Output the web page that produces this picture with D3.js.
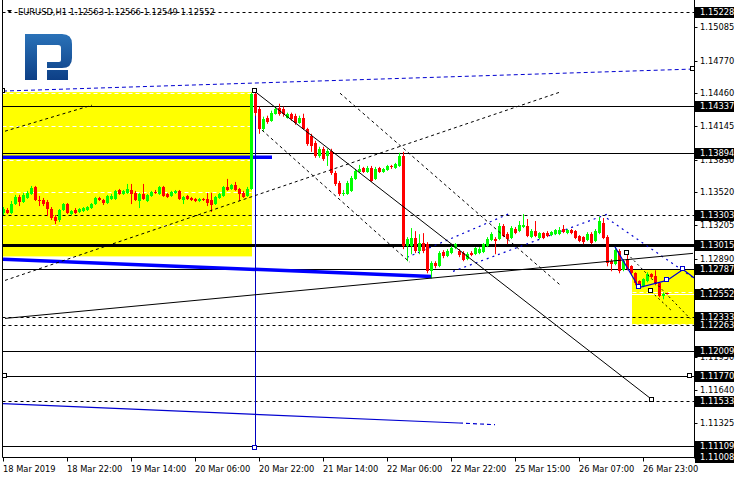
<!DOCTYPE html>
<html><head><meta charset="utf-8">
<script src="https://cdn.jsdelivr.net/npm/d3@7"></script>
<style>body{margin:0;background:#fff}svg{display:block}</style>
</head><body>
<svg id="c" width="740" height="480"></svg>
<script>
const symbolLabel = "EURUSD,H1";
const headerValues = ["1.12563","1.12566","1.12549","1.12552"];

const openP = [1.13322,1.13350,1.13322,1.13407,1.13475,1.13426,1.13465,1.13503,1.13570,1.13446,
1.13446,1.13426,1.13360,1.13284,1.13255,1.13350,1.13407,1.13312,1.13350,1.13331,
1.13341,1.13350,1.13369,1.13407,1.13465,1.13446,1.13417,1.13456,1.13456,1.13541,
1.13503,1.13513,1.13541,1.13513,1.13436,1.13503,1.13436,1.13484,1.13522,1.13503,
1.13570,1.13503,1.13484,1.13513,1.13532,1.13446,1.13484,1.13465,1.13456,1.13436,
1.13456,1.13456,1.13446,1.13407,1.13465,1.13484,1.13570,1.13551,1.13589,1.13551,
1.13513,1.13484,1.13551,1.14456,1.14313,1.14122,1.14227,1.14198,1.14265,1.14322,
1.14313,1.14227,1.14265,1.14246,1.14179,1.14227,1.14122,1.14055,1.13989,1.13865,
1.13932,1.13865,1.13913,1.13703,1.13608,1.13503,1.13503,1.13532,1.13646,1.13712,
1.13750,1.13712,1.13750,1.13646,1.13750,1.13712,1.13731,1.13765,1.13750,1.13769,
1.13865,1.13007,1.13007,1.13083,1.12960,1.13036,1.13026,1.12769,1.12845,1.12816,
1.12950,1.12912,1.12941,1.12988,1.12960,1.12941,1.12884,1.12941,1.12931,1.12941,
1.12950,1.13007,1.13064,1.13074,1.13074,1.13198,1.13121,1.13083,1.13170,1.13150,
1.13189,1.13198,1.13093,1.13150,1.13083,1.13131,1.13131,1.13112,1.13121,1.13121,
1.13170,1.13131,1.13160,1.13150,1.13102,1.13093,1.13064,1.13121,1.13055,1.13131,
1.13227,1.13093,1.12864,1.12835,1.12960,1.12778,1.12884,1.12816,1.12750,1.12674,
1.12626,1.12674,1.12740,1.12721,1.12655,1.12531,1.12563];
const highP = [1.13379,1.13369,1.13436,1.13494,1.13494,1.13513,1.13532,1.13579,1.13579,1.13484,
1.13465,1.13446,1.13379,1.13303,1.13360,1.13417,1.13417,1.13350,1.13369,1.13369,
1.13379,1.13388,1.13417,1.13475,1.13475,1.13456,1.13494,1.13503,1.13541,1.13551,
1.13541,1.13598,1.13598,1.13532,1.13513,1.13598,1.13503,1.13532,1.13541,1.13579,
1.13579,1.13513,1.13532,1.13541,1.13541,1.13484,1.13494,1.13475,1.13465,1.13465,
1.13465,1.13513,1.13513,1.13484,1.13513,1.13579,1.13646,1.13598,1.13617,1.13560,
1.13532,1.13570,1.14465,1.14475,1.14332,1.14237,1.14246,1.14294,1.14332,1.14360,
1.14332,1.14275,1.14275,1.14265,1.14246,1.14265,1.14131,1.14074,1.14008,1.13951,
1.13951,1.13932,1.13932,1.13722,1.13627,1.13541,1.13627,1.13674,1.13741,1.13779,
1.13760,1.13769,1.13769,1.13760,1.13760,1.13750,1.13779,1.13779,1.13798,1.13894,
1.13903,1.13093,1.13179,1.13150,1.13121,1.13131,1.13045,1.12864,1.12864,1.12960,
1.12969,1.12979,1.13007,1.13036,1.12979,1.12960,1.12950,1.12960,1.12998,1.12998,
1.13036,1.13093,1.13140,1.13093,1.13227,1.13217,1.13140,1.13198,1.13189,1.13246,
1.13312,1.13265,1.13170,1.13246,1.13140,1.13140,1.13150,1.13150,1.13170,1.13189,
1.13208,1.13170,1.13170,1.13160,1.13112,1.13102,1.13140,1.13140,1.13170,1.13284,
1.13274,1.13112,1.12884,1.12988,1.12979,1.12884,1.12931,1.12826,1.12759,1.12683,
1.12702,1.12759,1.12750,1.12778,1.12664,1.12569,1.12566];
const lowP = [1.13303,1.13312,1.13312,1.13398,1.13388,1.13417,1.13456,1.13494,1.13436,1.13388,
1.13388,1.13293,1.13255,1.13217,1.13236,1.13341,1.13312,1.13303,1.13312,1.13322,
1.13331,1.13341,1.13360,1.13398,1.13436,1.13398,1.13407,1.13446,1.13446,1.13494,
1.13494,1.13503,1.13407,1.13436,1.13369,1.13446,1.13426,1.13475,1.13503,1.13494,
1.13475,1.13465,1.13475,1.13503,1.13446,1.13407,1.13446,1.13436,1.13426,1.13426,
1.13436,1.13388,1.13331,1.13398,1.13456,1.13475,1.13532,1.13541,1.13532,1.13436,
1.13465,1.13475,1.13541,1.14246,1.14074,1.14103,1.14169,1.14188,1.14256,1.14246,
1.14237,1.14218,1.14198,1.14160,1.14169,1.14112,1.13960,1.13903,1.13846,1.13846,
1.13817,1.13769,1.13684,1.13579,1.13484,1.13484,1.13494,1.13522,1.13636,1.13703,
1.13703,1.13703,1.13617,1.13636,1.13703,1.13703,1.13722,1.13741,1.13741,1.13760,
1.12979,1.12864,1.12931,1.12941,1.12931,1.12941,1.12750,1.12702,1.12797,1.12807,
1.12893,1.12903,1.12931,1.12979,1.12903,1.12864,1.12874,1.12912,1.12922,1.12931,
1.12941,1.12998,1.13055,1.12931,1.13064,1.13093,1.13026,1.13074,1.13121,1.13140,
1.13179,1.13093,1.13083,1.13093,1.13074,1.13074,1.13093,1.13102,1.13112,1.13112,
1.13131,1.13121,1.13121,1.13074,1.13045,1.13026,1.13055,1.13026,1.13045,1.13121,
1.13074,1.12816,1.12769,1.12826,1.12750,1.12769,1.12778,1.12731,1.12636,1.12607,
1.12617,1.12664,1.12702,1.12636,1.12522,1.12503,1.12549];
const closeP = [1.13360,1.13322,1.13407,1.13475,1.13426,1.13494,1.13513,1.13560,1.13446,1.13441,
1.13407,1.13360,1.13274,1.13246,1.13350,1.13407,1.13322,1.13341,1.13322,1.13360,
1.13369,1.13379,1.13407,1.13465,1.13446,1.13417,1.13484,1.13484,1.13532,1.13503,
1.13532,1.13551,1.13503,1.13446,1.13503,1.13456,1.13494,1.13522,1.13513,1.13570,
1.13484,1.13475,1.13522,1.13532,1.13456,1.13475,1.13456,1.13446,1.13436,1.13456,
1.13446,1.13417,1.13398,1.13475,1.13503,1.13570,1.13541,1.13589,1.13541,1.13503,
1.13475,1.13551,1.14456,1.14275,1.14122,1.14218,1.14188,1.14275,1.14313,1.14265,
1.14265,1.14265,1.14218,1.14179,1.14227,1.14122,1.13979,1.13960,1.13865,1.13932,
1.13837,1.13913,1.13703,1.13598,1.13503,1.13513,1.13608,1.13655,1.13722,1.13741,
1.13712,1.13750,1.13627,1.13741,1.13712,1.13741,1.13769,1.13755,1.13788,1.13865,
1.13007,1.13074,1.13083,1.12960,1.13036,1.12960,1.12769,1.12845,1.12816,1.12941,
1.12912,1.12960,1.12988,1.13026,1.12922,1.12874,1.12931,1.12922,1.12988,1.12979,
1.13026,1.13074,1.13121,1.13055,1.13198,1.13102,1.13074,1.13179,1.13131,1.13208,
1.13208,1.13102,1.13150,1.13102,1.13131,1.13083,1.13102,1.13140,1.13160,1.13160,
1.13140,1.13160,1.13131,1.13083,1.13055,1.13045,1.13121,1.13036,1.13150,1.13246,
1.13083,1.12845,1.12835,1.12969,1.12769,1.12864,1.12788,1.12750,1.12655,1.12626,
1.12693,1.12740,1.12712,1.12645,1.12531,1.12550,1.12552];

const timeTickLabels = ["18 Mar 2019","18 Mar 22:00","19 Mar 14:00","20 Mar 06:00","20 Mar 22:00",
  "21 Mar 14:00","22 Mar 06:00","22 Mar 22:00","25 Mar 15:00","26 Mar 07:00","26 Mar 23:00"];
const timeTickBars = [0,16,32,48,64,80,96,112,128,144,160];
const priceTicks = [1.15085,1.14770,1.14460,1.14145,1.13830,1.13520,1.13205,1.12890,1.12575,1.12265,1.11950,1.11640,1.11325];
const hiddenTickLabels = [1.12265];

// horizontal levels (price, style)
const levelPrices = [1.15228,1.14337,1.13894,1.13303,1.13015,1.12787,1.12333,1.12263,1.12009,1.11770,1.11533,1.11109,1.11008];
const levelStyles = ["dash","solid","solid","dash","thick","solid","dash","dash","solid","solid","dash","solid","solid"];
const bidPrice = 1.12552;

// drawn objects: [bar1, price1, bar2, price2]
const dashedLines = [[0.5,1.12682,139.25,1.14470],[0.5,1.14099,22.25,1.14346],[64.75,1.14109,101.75,1.12853],[84.25,1.14460,139.25,1.12640]];
const dottedLines = [[156,1.12939,171.75,1.12321],[162,1.12577,167,1.12400]];
const solidLines = [[63,1.14475,162.25,1.11550],[0.5,1.12321,172.5,1.12939]];
const blueDotted = [[101,1.12901,126.75,1.13319],[112.5,1.12768,151,1.13310],[151,1.13272,174.25,1.12663]];
const blueDashedTop = [0,1.14480,172.5,1.14689];
const blueThickSlope = [0,1.12882,107.25,1.12720];
const blueThickFlat = [0,1.13852,67.25,1.13852];
const blueThin = [0,1.11512,114,1.11328];
const blueThinDashed = [114,1.11328,123,1.11312];
const blueVertical = [63,1.14475,1.11094];
const yellowBoxes = [[-0.25,1.14470,62.25,1.12910],[157.25,1.12787,175,1.12263]];
const projection = [[153,1.13000],[159,1.12615],[166,1.12682],[170,1.12786],[174.25,1.12663]];

const svg = d3.select("#c");
const W=740, H=480, plotL=2.5, plotR=694.5, plotT=0.5, plotB=457.5;
const x = d3.scaleLinear().domain([0,166]).range([3,667]);
const y = d3.scaleLinear().domain([1.11008,1.15228]).range([456.7,12.3]);
const font = "DejaVu Sans, Verdana, sans-serif";

svg.append("rect").attr("width",W).attr("height",H).attr("fill","#fff");
svg.append("clipPath").attr("id","clip").append("rect").attr("x",plotL).attr("y",plotT).attr("width",plotR-plotL).attr("height",plotB-plotT);
const g = svg.append("g").attr("clip-path","url(#clip)");

// yellow rectangles
g.selectAll("rect.yb").data(yellowBoxes).join("rect")
  .attr("x",d=>x(d[0])).attr("y",d=>y(d[1]))
  .attr("width",d=>x(d[2])-x(d[0])).attr("height",d=>y(d[3])-y(d[1]))
  .attr("fill","#ffff00");

// white dashed grid
g.selectAll("line.grid").data(priceTicks).join("line")
  .attr("x1",plotL).attr("x2",plotR)
  .attr("y1",d=>Math.round(y(d))+0.5).attr("y2",d=>Math.round(y(d))+0.5)
  .attr("stroke","#fff").attr("stroke-dasharray","4,3");

// logo
const logo = g.append("g");
const grad = svg.append("defs").append("linearGradient").attr("id","lg").attr("x1",0).attr("y1",0).attr("x2",0).attr("y2",1);
grad.append("stop").attr("offset","0").attr("stop-color","#2a72b8");
grad.append("stop").attr("offset","1").attr("stop-color","#0d3f86");
logo.append("path").attr("fill","url(#lg)").attr("fill-rule","evenodd")
  .attr("d","M25,34 H62 Q72,34 72,44 V58 Q72,68 62,68 H47 V62 H59 Q61,62 61,60 V48 Q61,45 58,45 H37 V80 H25 Z M47,70 H68 V80 H47 Z");

// horizontal levels
levelPrices.forEach((p,i)=>{
  const st = levelStyles[i];
  const yy = Math.round(y(p))+0.5;
  g.append("line").attr("x1",plotL).attr("x2",plotR).attr("y1",yy).attr("y2",yy)
    .attr("stroke","#000").attr("stroke-width", st==="thick"?3:1)
    .attr("stroke-dasharray", st==="dash"?"3,3":null);
});
g.append("line").attr("x1",plotL).attr("x2",plotR).attr("y1",Math.round(y(bidPrice))+0.5).attr("y2",Math.round(y(bidPrice))+0.5).attr("stroke","#fff");

// blue objects
const seg = (sel,d)=>sel.attr("x1",x(d[0])).attr("y1",y(d[1])).attr("x2",x(d[2])).attr("y2",y(d[3]));
seg(g.append("line"),blueDashedTop).attr("stroke","#0000d0").attr("stroke-dasharray","4,3");
seg(g.append("line"),blueThickSlope).attr("stroke","#0000ff").attr("stroke-width",3.5);
seg(g.append("line"),blueThickFlat).attr("stroke","#0000ff").attr("stroke-width",3.5);
seg(g.append("line"),blueThin).attr("stroke","#0000d0").attr("stroke-width",1.2);
seg(g.append("line"),blueThinDashed).attr("stroke","#0000d0").attr("stroke-width",1.2).attr("stroke-dasharray","4,3");
blueDotted.forEach(d=>seg(g.append("line"),d).attr("stroke","#0000d0").attr("stroke-width",1.2).attr("stroke-dasharray","2,4"));
g.append("line").attr("x1",x(blueVertical[0])+0.5).attr("x2",x(blueVertical[0])+0.5)
  .attr("y1",y(blueVertical[1])).attr("y2",y(blueVertical[2])).attr("stroke","#0000c0");

// candles
const bars = openP.map((o,i)=>({i,o,h:highP[i],l:lowP[i],c:closeP[i]}));
const col = d=>d.c>=d.o?"#00ff00":"#ff0000";
g.selectAll("line.wick").data(bars).join("line")
  .attr("x1",d=>Math.round(x(d.i))+0.5).attr("x2",d=>Math.round(x(d.i))+0.5)
  .attr("y1",d=>y(d.h)).attr("y2",d=>y(d.l)).attr("stroke",col);
g.selectAll("rect.body").data(bars).join("rect")
  .attr("x",d=>Math.round(x(d.i))-1).attr("width",3)
  .attr("y",d=>Math.round(y(Math.max(d.o,d.c))))
  .attr("height",d=>Math.max(1,Math.round(y(Math.min(d.o,d.c)))-Math.round(y(Math.max(d.o,d.c)))))
  .attr("fill",col);

// black trend lines
dashedLines.forEach(d=>seg(g.append("line"),d).attr("stroke","#000").attr("stroke-dasharray","3,3"));
dottedLines.forEach(d=>seg(g.append("line"),d).attr("stroke","#000").attr("stroke-dasharray","2,3"));
solidLines.forEach(d=>seg(g.append("line"),d).attr("stroke","#000"));

// projection path
g.append("path").attr("d",d3.line().x(d=>x(d[0])).y(d=>y(d[1]))(projection))
  .attr("fill","none").attr("stroke","#0000d0").attr("stroke-width",1.2);
const squares = [[63,1.14480,"#000"],[0,1.14480,"#000"],[172.5,1.14689,"#000"],[0.5,1.11770,"#000"],[171.75,1.11770,"#000"],
  [63,1.11094,"#0000c0"],[162.25,1.11550,"#000"],[156,1.12939,"#000"],[162,1.12577,"#000"],
  [159,1.12615,"#0000d0"],[166,1.12682,"#0000d0"],[170,1.12786,"#0000d0"]];
g.selectAll("rect.sq").data(squares).join("rect")
  .attr("x",d=>Math.round(x(d[0]))-2.5).attr("y",d=>Math.round(y(d[1]))-2.5).attr("width",4).attr("height",4)
  .attr("fill","#fff").attr("stroke",d=>d[2]);

// frame
svg.append("line").attr("x1",plotL).attr("x2",plotL).attr("y1",0).attr("y2",plotB).attr("stroke","#000");
svg.append("line").attr("x1",plotR).attr("x2",plotR).attr("y1",0).attr("y2",plotB+1).attr("stroke","#000");
svg.append("line").attr("x1",plotL).attr("x2",plotR).attr("y1",plotB).attr("y2",plotB).attr("stroke","#000");

// price axis
const ya = svg.append("g");
priceTicks.forEach(p=>{
  const yy=Math.round(y(p))+0.5;
  ya.append("line").attr("x1",plotR).attr("x2",plotR+3).attr("y1",yy).attr("y2",yy).attr("stroke","#000");
  if (hiddenTickLabels.includes(p)) return;
  ya.append("text").attr("x",700).attr("y",yy).attr("dy","0.35em").attr("font-family",font).attr("font-size",8.3).attr("fill","#000").text(p.toFixed(5));
});
levelPrices.concat([bidPrice]).forEach(p=>{
  const yy=Math.round(y(p))+0.5;
  ya.append("rect").attr("x",695).attr("y",yy-5.5).attr("width",39).attr("height",11).attr("fill","#000");
  ya.append("text").attr("x",700).attr("y",yy).attr("dy","0.35em").attr("font-family",font).attr("font-size",8.3).attr("fill","#fff").text(p.toFixed(5));
});

// time axis
const xa = svg.append("g");
timeTickBars.forEach((b,i)=>{
  const xx=Math.round(x(b))+0.5;
  xa.append("line").attr("x1",xx).attr("x2",xx).attr("y1",plotB).attr("y2",plotB+4).attr("stroke","#000");
  xa.append("text").attr("x",xx-0.5).attr("y",472).attr("font-family",font).attr("font-size",8.3).attr("fill","#000").text(timeTickLabels[i]);
});

// header
svg.append("path").attr("d","M7,10 L12,10 L9.5,13 Z").attr("fill","#000");
svg.append("text").attr("x",18).attr("y",15).attr("font-family",font).attr("font-size",8.3).attr("fill","#000")
  .text(symbolLabel+"  "+headerValues.join(" "));
</script>
</body></html>
